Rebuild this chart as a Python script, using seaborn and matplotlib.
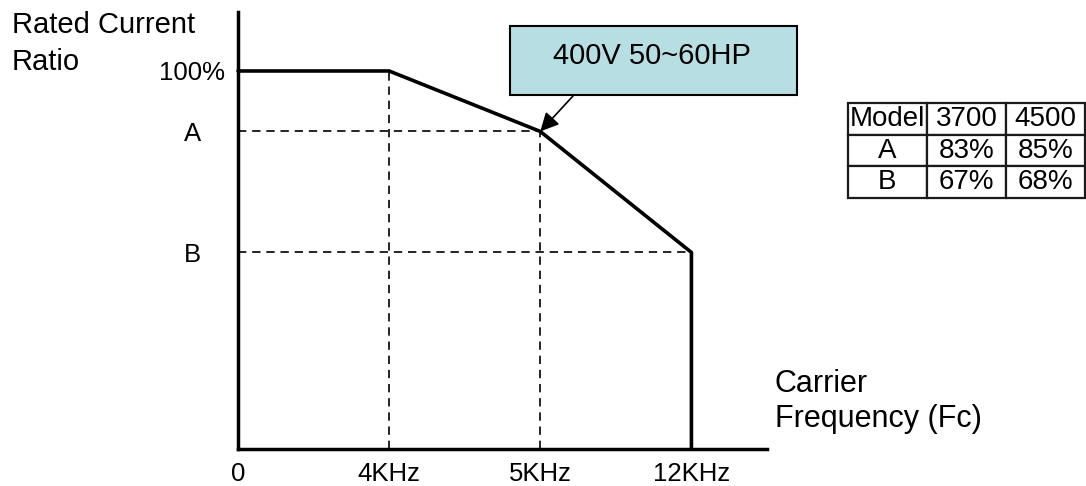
import seaborn as sns
import matplotlib.pyplot as plt
from matplotlib.patches import Rectangle

sns.set_theme(style="white")
plt.rcParams["font.family"] = ["Liberation Sans", "DejaVu Sans"]
plt.rcParams["text.color"] = "black"

# schematic derating curve (x = tick index, y = drawn level in %)
freq_labels = ["0", "4KHz", "5KHz", "12KHz"]
freq_pos = [0, 1, 2, 3]
level_names = ["B", "A", "100%"]
level_values = [52, 84, 100]
curve_x = [0, 1, 2, 3, 3]
curve_y = [100, 100, 84, 52, 0]

# table of A / B ratios per model
models = ["3700", "4500"]
ratio_a = ["83%", "85%"]
ratio_b = ["67%", "68%"]

W, H = 1086, 486
fig = plt.figure(figsize=(W / 100, H / 100), dpi=100)
ax = fig.add_axes([238 / W, (H - 449) / H, (767 - 238) / W, (449 - 12) / H])

sns.lineplot(x=curve_x, y=curve_y, sort=False, estimator=None,
             color="black", linewidth=2.6, ax=ax, clip_on=False)

dash = (0, (5, 3.5))
ax.plot([freq_pos[1], freq_pos[1]], [0, level_values[2]], color="black", lw=1.2, ls=dash)
ax.plot([freq_pos[2], freq_pos[2]], [0, level_values[1]], color="black", lw=1.2, ls=dash)
ax.plot([0, freq_pos[2]], [level_values[1]] * 2, color="black", lw=1.2, ls=dash)
ax.plot([0, freq_pos[3]], [level_values[0]] * 2, color="black", lw=1.2, ls=dash)

ax.set_xlim(0, 3.5)
ax.set_ylim(0, 115.6)
ax.set_xticks(freq_pos)
ax.set_xticklabels(freq_labels)
ax.set_yticks(level_values)
ax.set_yticklabels(level_names)
for lbl in ax.get_yticklabels():
    lbl.set_horizontalalignment("center")
ax.tick_params(axis="x", length=0, pad=9, labelsize=18.5, colors="black")
ax.tick_params(axis="y", length=0, pad=33, labelsize=18.5, colors="black")

for side in ["top", "right"]:
    ax.spines[side].set_visible(False)
for side in ["left", "bottom"]:
    ax.spines[side].set_linewidth(2.5)
    ax.spines[side].set_color("black")
ax.set_facecolor("white")

# y axis title, two lines
fig.text(12 / W, 1 - 25 / H, "Rated Current", ha="left", va="center", fontsize=21)
fig.text(12 / W, 1 - 62 / H, "Ratio", ha="left", va="center", fontsize=21)
fig.text(775 / W, 1 - 369 / H, "Carrier\nFrequency (Fc)", ha="left", va="top",
         fontsize=22, linespacing=1.2)

# callout box with arrow
box = Rectangle((510 / W, 1 - 95 / H), (797 - 510) / W, 69 / H,
                transform=fig.transFigure, facecolor="#B7DFE3",
                edgecolor="black", lw=1.5)
fig.patches.append(box)
fig.text(652 / W, 1 - 56 / H, "400V 50~60HP", ha="center", va="center", fontsize=21)
ax.annotate("", xy=(freq_pos[2], level_values[1]), xycoords="data",
            xytext=(573 / W, 1 - 96 / H), textcoords="figure fraction",
            arrowprops=dict(arrowstyle="-|>", color="black", lw=1.2,
                            mutation_scale=28, shrinkA=0, shrinkB=0))

# model table
tax = fig.add_axes([848 / W, (H - 198) / H, (1085 - 848) / W, (198 - 103) / H])
tax.axis("off")
cells = [["Model"] + models, ["A"] + ratio_a, ["B"] + ratio_b]
tbl = tax.table(cellText=cells, cellLoc="center", bbox=[0, 0, 1, 1])
tbl.auto_set_font_size(False)
for cell in tbl.get_celld().values():
    cell.set_linewidth(1.6)
    cell.get_text().set_fontsize(20)
    cell.get_text().set_color("black")
    cell.PAD = 0.01

fig.savefig("out.png", dpi=100, facecolor="white")
